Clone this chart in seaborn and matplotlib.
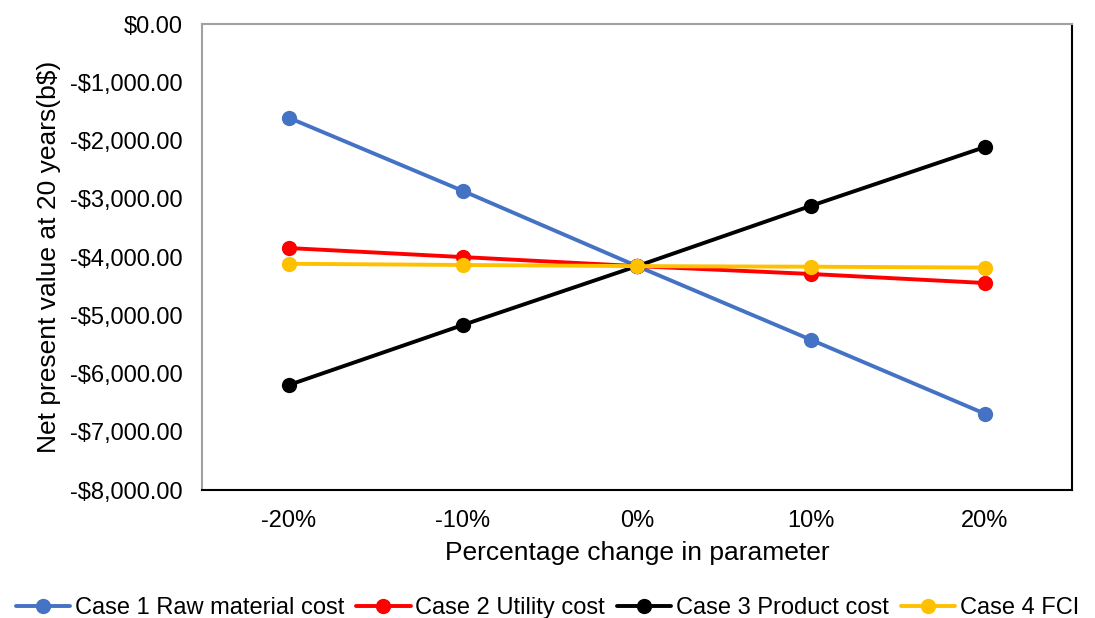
import matplotlib
matplotlib.use("Agg")
import matplotlib.pyplot as plt
import numpy as np
import pandas as pd
import seaborn as sns

# values
changes = ["-20%", "-10%", "0%", "10%", "20%"]
case1 = [-1610, -2865, -4155, -5420, -6690]
case2 = [-3845, -4000, -4155, -4290, -4445]
case3 = [-6195, -5165, -4155, -3120, -2110]
case4 = [-4115, -4135, -4155, -4165, -4180]
names = ["Case 1 Raw material cost", "Case 2 Utility cost",
         "Case 3 Product cost", "Case 4 FCI"]
colors = ["#4472C4", "#FF0000", "#000000", "#FFC000"]

rows = []
for name, vals in zip(names, [case1, case2, case3, case4]):
    for i, (c, v) in enumerate(zip(changes, vals)):
        rows.append({"pos": i, "change": c, "npv": v, "case": name})
df = pd.DataFrame(rows)

sns.set_style("white")
plt.rcParams["font.family"] = ["Liberation Sans", "DejaVu Sans"]
plt.rcParams["text.color"] = "black"
plt.rcParams["axes.labelcolor"] = "black"
plt.rcParams["xtick.color"] = "black"
plt.rcParams["ytick.color"] = "black"

fig = plt.figure(figsize=(10.95, 6.18), dpi=100)
ax = fig.add_axes([0.1845, 0.207, 0.7945, 0.754])

sns.lineplot(data=df, x="pos", y="npv", hue="case", palette=colors,
             marker="o", markersize=11, markeredgewidth=0, linewidth=2.8,
             sort=False, ax=ax, legend=True)

yt = np.arange(-8000, 1, 1000)
ax.set_xlim(-0.5, 4.5)
ax.set_xticks(range(len(changes)))
ax.set_xticklabels(changes, fontsize=17)
ax.set_ylim(-8000, 0)
ax.set_yticks(yt)
ax.set_yticklabels(["$0.00" if t == 0 else "-${:,.2f}".format(abs(t)) for t in yt],
                   fontsize=17)
ax.tick_params(axis="y", length=0, pad=14)
ax.tick_params(axis="x", length=0, pad=14)
ax.set_xlabel("Percentage change in parameter", fontsize=19, labelpad=7)
ax.set_ylabel("Net present value at 20 years(b$)", fontsize=19, labelpad=6)

ax.spines["left"].set_color("#A0A0A0")
ax.spines["top"].set_color("#A0A0A0")
ax.spines["right"].set_color("black")
ax.spines["bottom"].set_color("black")
for s in ax.spines.values():
    s.set_linewidth(1.5)

handles, labels = ax.get_legend_handles_labels()
ax.get_legend().remove()
fig.legend(handles, labels, loc="lower center", bbox_to_anchor=(0.5, -0.025),
           ncol=4, frameon=False, fontsize=17, handlelength=2.3,
           handletextpad=0.2, columnspacing=0.5, borderaxespad=0.2)

fig.savefig("out.png", dpi=100)
